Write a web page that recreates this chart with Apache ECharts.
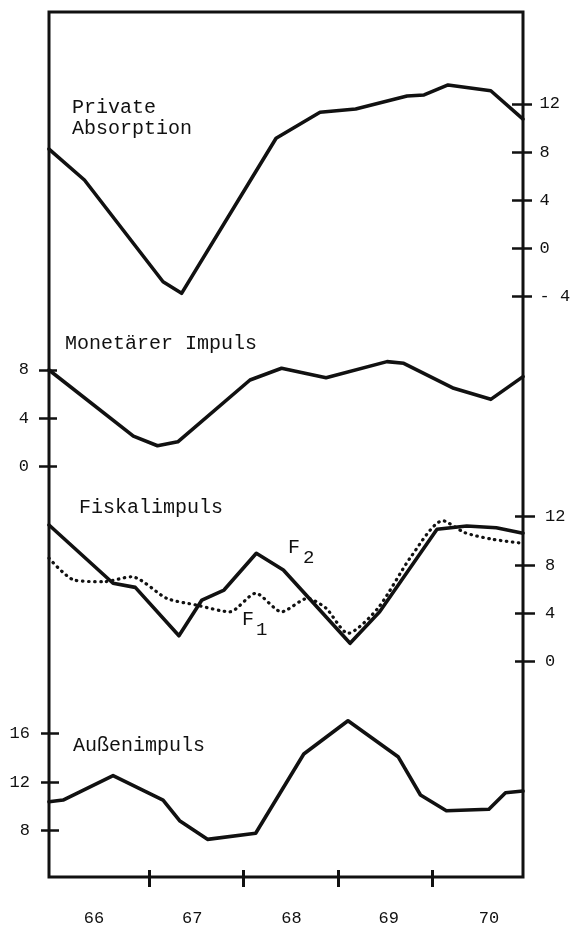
<!DOCTYPE html>
<html>
<head>
<meta charset="utf-8">
<script src="https://cdn.jsdelivr.net/npm/echarts@6/dist/echarts.min.js"></script>
<style>
html,body{margin:0;padding:0;background:#fff;}
#chart{width:579px;height:932px;}
</style>
</head>
<body>
<div id="chart"></div>
<script>
// ---- data (x in decimal years, 66 = 1966) ----
const yearLabels = ['66', '67', '68', '69', '70'];
const yearLabelPos = [66.42, 67.46, 68.51, 69.54, 70.6];
const yearTicks = [67, 68, 69, 70];

const privTicks = [-4, 0, 4, 8, 12];
const monTicks = [0, 4, 8];
const fiskTicks = [0, 4, 8, 12];
const aussTicks = [8, 12, 16];

const privX = [65.944, 66.319, 67.151, 67.347, 68.347, 68.812, 69.189, 69.733, 69.913, 70.167, 70.619, 70.96];
const privY = [8.26, 5.69, -2.76, -3.72, 9.15, 11.31, 11.58, 12.66, 12.75, 13.58, 13.10, 10.75];

const monX = [65.944, 66.837, 67.092, 67.307, 68.071, 68.405, 68.876, 69.521, 69.698, 70.227, 70.619, 70.96];
const monY = [8.0, 2.53, 1.73, 2.06, 7.17, 8.14, 7.36, 8.69, 8.55, 6.48, 5.57, 7.45];

const f2X = [65.944, 66.622, 66.857, 67.319, 67.562, 67.796, 68.138, 68.424, 69.130, 69.443, 70.050, 70.365, 70.678, 70.96];
const f2Y = [11.31, 6.49, 6.15, 2.15, 5.10, 5.93, 8.97, 7.59, 1.52, 4.13, 10.96, 11.23, 11.09, 10.63];

const f1X = [65.944, 66.209, 66.523, 66.817, 67.190, 67.503, 67.856, 68.131, 68.405, 68.679, 68.876, 69.108, 69.424, 69.775, 70.110, 70.344, 70.639, 70.96];
const f1Y = [8.56, 6.76, 6.62, 7.03, 5.24, 4.69, 4.13, 5.66, 4.13, 5.24, 4.42, 2.35, 4.42, 8.69, 11.67, 10.68, 10.13, 9.80];

const aussX = [65.944, 66.093, 66.622, 67.151, 67.326, 67.621, 68.131, 68.640, 69.108, 69.638, 69.875, 70.149, 70.599, 70.775, 70.96];
const aussY = [10.38, 10.52, 12.52, 10.52, 8.82, 7.29, 7.79, 14.30, 17.03, 14.08, 10.93, 9.64, 9.76, 11.12, 11.26];

// ---- helpers ----
const zip = (xs, ys) => xs.map((x, i) => [x, ys[i]]);
const INK = '#111111';
const MONO = '"Liberation Mono", "DejaVu Sans Mono", monospace';
const X_MIN = 65.944, X_MAX = 70.96;
const L = 49, W = 474;

function hiddenX(gi) {
  return { type: 'value', gridIndex: gi, min: X_MIN, max: X_MAX, show: false };
}
function yAx(gi, pos, min, max, ticks, offset, tickLen, margin) {
  return {
    type: 'value', gridIndex: gi, position: pos, min: min, max: max, interval: 4,
    offset: offset,
    axisLine: { show: false },
    splitLine: { show: false },
    axisTick: { show: true, inside: false, length: tickLen, customValues: ticks,
      lineStyle: { color: INK, width: 2.5 } },
    axisLabel: { show: true, customValues: ticks, margin: margin,
      color: INK, fontFamily: MONO, fontSize: 17,
      formatter: v => (v < 0 ? '- ' + (-v) : String(v)) }
  };
}
function lineSeries(xi, yi, data, dotted) {
  return {
    type: 'line', xAxisIndex: xi, yAxisIndex: yi, data: data,
    showSymbol: false, symbol: 'none', clip: false, silent: true,
    smooth: dotted ? 0.25 : false,
    lineStyle: dotted
      ? { color: INK, width: 3.2, type: [0.5, 5.5], cap: 'round' }
      : { color: INK, width: 3.6, join: 'round', cap: 'round' }
  };
}

const chart = echarts.init(document.getElementById('chart'), null, { renderer: 'canvas' });

const option = {
  backgroundColor: '#ffffff',
  animation: false,
  grid: [
    { left: L, width: W, top: 12, height: 865, show: true, borderColor: INK, borderWidth: 3, backgroundColor: 'transparent' },
    { left: L, width: W, top: 55.8, height: 240.9 },
    { left: L, width: W, top: 321.6, height: 145.1 },
    { left: L, width: W, top: 516.7, height: 145 },
    { left: L, width: W, top: 684.6, height: 194.8 }
  ],
  xAxis: [
    {
      type: 'value', gridIndex: 0, min: X_MIN, max: X_MAX, position: 'bottom', offset: -7,
      axisLine: { show: false }, splitLine: { show: false },
      axisTick: { show: true, length: 17, customValues: yearTicks, lineStyle: { color: INK, width: 3 } },
      axisLabel: { show: true, customValues: yearLabelPos, margin: 40, color: INK, fontFamily: MONO, fontSize: 17,
        formatter: v => { const i = yearLabelPos.indexOf(v); return i >= 0 ? yearLabels[i] : ''; } }
    },
    hiddenX(1), hiddenX(2), hiddenX(3), hiddenX(4)
  ],
  yAxis: [
    { type: 'value', gridIndex: 0, min: 0, max: 1, show: false },
    yAx(1, 'right', -4, 16, privTicks, -11, 20, 27.5),
    yAx(2, 'left', 0, 12, monTicks, -8, 18, 28),
    yAx(3, 'right', 0, 12, fiskTicks, -8, 20, 30),
    yAx(4, 'left', 4, 20, aussTicks, -10, 18, 29)
  ],
  series: [
    lineSeries(1, 1, zip(privX, privY), false),
    lineSeries(2, 2, zip(monX, monY), false),
    lineSeries(3, 3, zip(f1X, f1Y), true),
    lineSeries(3, 3, zip(f2X, f2Y), false),
    lineSeries(4, 4, zip(aussX, aussY), false)
  ],
  graphic: [
    { type: 'text', left: 72, top: 97, silent: true,
      style: { text: 'Private\nAbsorption', fill: INK, font: '20px ' + MONO, lineHeight: 21 } },
    { type: 'text', left: 65, top: 334, silent: true,
      style: { text: 'Monetärer Impuls', fill: INK, font: '20px ' + MONO } },
    { type: 'text', left: 79, top: 498, silent: true,
      style: { text: 'Fiskalimpuls', fill: INK, font: '20px ' + MONO } },
    { type: 'text', left: 73, top: 736, silent: true,
      style: { text: 'Außenimpuls', fill: INK, font: '20px ' + MONO } },
    { type: 'text', left: 288, top: 538, silent: true,
      style: { text: 'F', fill: INK, font: '20px ' + MONO } },
    { type: 'text', left: 303, top: 548, silent: true,
      style: { text: '2', fill: INK, font: '19px ' + MONO } },
    { type: 'text', left: 242, top: 610, silent: true,
      style: { text: 'F', fill: INK, font: '20px ' + MONO } },
    { type: 'text', left: 256, top: 620, silent: true,
      style: { text: '1', fill: INK, font: '19px ' + MONO } }
  ]
};
chart.setOption(option);
</script>
</body>
</html>
